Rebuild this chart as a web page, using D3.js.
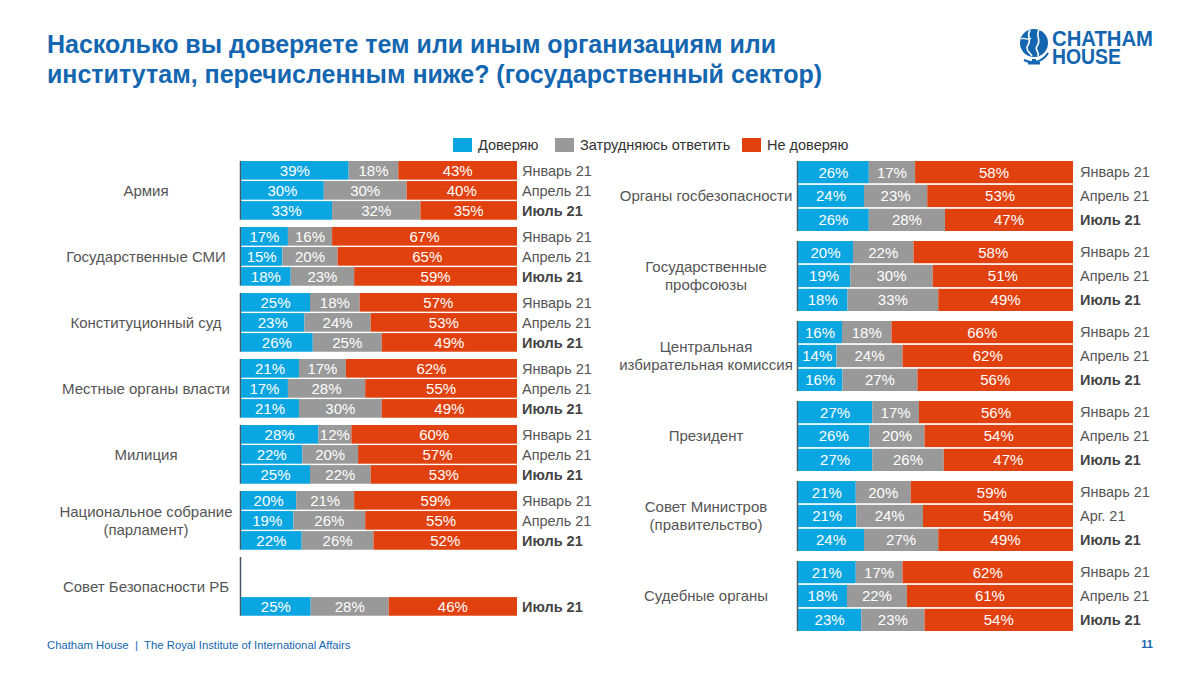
<!DOCTYPE html>
<html><head><meta charset="utf-8">
<script src="https://cdn.jsdelivr.net/npm/d3@7"></script>
<style>
html,body{margin:0;padding:0;background:#fff;}
svg{display:block;font-family:"Liberation Sans",Arial,sans-serif;}
</style></head>
<body><svg id="chart" width="1200" height="675"></svg>
<script>
// ---------- DATA ----------
const periods = ["Январь 21", "Апрель 21", "Июль 21"];
const seriesNames = ["Доверяю", "Затрудняюсь ответить", "Не доверяю"];

const leftCategories = [
  ["Армия"], ["Государственные СМИ"], ["Конституционный суд"],
  ["Местные органы власти"], ["Милиция"],
  ["Национальное собрание", "(парламент)"], ["Совет Безопасности РБ"]
];
// per category: [Jan, Apr, Jul]
const leftTrust    = [[39,30,33],[17,15,18],[25,23,26],[21,17,21],[28,22,25],[20,19,22],[null,null,25]];
const leftUnsure   = [[18,30,32],[16,20,23],[18,24,25],[17,28,30],[12,20,22],[21,26,26],[null,null,28]];
const leftDistrust = [[43,40,35],[67,65,59],[57,53,49],[62,55,49],[60,57,53],[59,55,52],[null,null,46]];
const leftPeriodLabels = [periods, periods, periods, periods, periods, periods, [null, null, "Июль 21"]];

const rightCategories = [
  ["Органы госбезопасности"], ["Государственные", "профсоюзы"],
  ["Центральная", "избирательная комиссия"], ["Президент"],
  ["Совет Министров", "(правительство)"], ["Судебные органы"]
];
const rightTrust    = [[26,24,26],[20,19,18],[16,14,16],[27,26,27],[21,21,24],[21,18,23]];
const rightUnsure   = [[17,23,28],[22,30,33],[18,24,27],[17,20,26],[20,24,27],[17,22,23]];
const rightDistrust = [[58,53,47],[58,51,49],[66,62,56],[56,54,47],[59,54,49],[62,61,54]];
const rightPeriodLabels = [periods, periods, periods, periods, ["Январь 21", "Арг. 21", "Июль 21"], periods];

// ---------- STYLE ----------
const colors = ["#0aa6e1", "#999999", "#e1410e"];
const titleBlue = "#1466b0";

const svg = d3.select("#chart");

// Title
const title = svg.append("text").attr("x", 47).attr("fill", titleBlue)
  .attr("font-weight", "bold").attr("font-size", 25);
title.append("tspan").attr("x", 47).attr("y", 53).text("Насколько вы доверяете тем или иным организациям или");
title.append("tspan").attr("x", 47).attr("y", 83).text("институтам, перечисленным ниже? (государственный сектор)");

// Logo
const logo = svg.append("g").attr("transform", "translate(1034,43)");
logo.append("circle").attr("r", 14).attr("fill", titleBlue);
logo.append("path").attr("d", "M-4,-13 C-8,-6 -2,-3 -6,2 C-9,6 -5,9 -2,13").attr("fill", "none").attr("stroke", "#fff").attr("stroke-width", 1.6);
logo.append("path").attr("d", "M5,-13 C1,-7 8,-3 3,3 C0,7 6,9 4,13").attr("fill", "none").attr("stroke", "#fff").attr("stroke-width", 1.6);
logo.append("path").attr("d", "M-13,-4 C-9,-6 -6,-2 -3,-5").attr("fill", "none").attr("stroke", "#fff").attr("stroke-width", 1.3);
logo.append("path").attr("d", "M-10,17 A18,18 0 0 0 14,10").attr("fill", "none").attr("stroke", titleBlue).attr("stroke-width", 2);
logo.append("rect").attr("x", -2).attr("y", 16).attr("width", 4).attr("height", 4).attr("fill", titleBlue);
logo.append("rect").attr("x", -6).attr("y", 19).attr("width", 12).attr("height", 2.5).attr("fill", titleBlue);
const logoText = svg.append("text").attr("fill", titleBlue).attr("font-weight", "bold").attr("font-size", 22.5);
logoText.append("tspan").attr("x", 1052).attr("y", 46).attr("textLength", 101).attr("lengthAdjust", "spacingAndGlyphs").text("CHATHAM");
logoText.append("tspan").attr("x", 1052).attr("y", 64).attr("textLength", 69).attr("lengthAdjust", "spacingAndGlyphs").text("HOUSE");

// Legend
const legendX = [453, 555, 742];
const legend = svg.append("g");
seriesNames.forEach((name, i) => {
  legend.append("rect").attr("x", legendX[i]).attr("y", 138).attr("width", 19).attr("height", 14).attr("fill", colors[i]);
  legend.append("text").attr("x", legendX[i] + 25).attr("y", 150).attr("font-size", 14.5).attr("fill", "#333").text(name);
});

// Footer
svg.append("text").attr("x", 47).attr("y", 649).attr("font-size", 11.3).attr("fill", titleBlue)
  .text("Chatham House\u00a0\u00a0|\u00a0\u00a0The Royal Institute of International Affairs");
svg.append("text").attr("x", 1153).attr("y", 648).attr("font-size", 11).attr("font-weight", "bold")
  .attr("text-anchor", "end").attr("fill", titleBlue).text("11");

// ---------- PANELS ----------
function drawPanel(cfg) {
  const n = cfg.categories.length;
  const g = svg.append("g");
  const yGroup = d3.scaleBand().domain(d3.range(n))
    .range([cfg.top, cfg.top + cfg.step * (n - cfg.pad)]).paddingInner(cfg.pad).paddingOuter(0);
  const yRow = d3.scaleBand().domain(d3.range(3)).range([0, yGroup.bandwidth()]).paddingInner(0.07);
  const x = d3.scaleLinear().domain([0, 1]).range([cfg.x0, cfg.x1]);

  for (let c = 0; c < n; c++) {
    const gy = yGroup(c);
    const grp = g.append("g").attr("transform", `translate(0,${gy})`);
    // axis line
    grp.append("line").attr("x1", cfg.x0 - 0.5).attr("x2", cfg.x0 - 0.5)
      .attr("y1", 0).attr("y2", yGroup.bandwidth()).attr("stroke", "#4d5866").attr("stroke-width", 1.5);
    // category label
    const lines = cfg.categories[c];
    const cy = yRow(1) + yRow.bandwidth() / 2;
    const lh = 18;
    lines.forEach((ln, k) => {
      grp.append("text").attr("x", cfg.catX).attr("y", cy + (k - (lines.length - 1) / 2) * lh)
        .attr("dy", "0.35em").attr("text-anchor", "middle").attr("font-size", 15).attr("fill", "#555").text(ln);
    });
    for (let p = 0; p < 3; p++) {
      const vals = [cfg.trust[c][p], cfg.unsure[c][p], cfg.distrust[c][p]];
      const ry = yRow(p), rh = yRow.bandwidth();
      if (vals[0] != null) {
        const total = d3.sum(vals);
        let acc = 0;
        vals.forEach((v, i) => {
          const xa = x(acc / total), xb = x((acc + v) / total);
          grp.append("rect").attr("x", xa).attr("y", ry).attr("width", xb - xa).attr("height", rh).attr("fill", colors[i]);
          grp.append("text").attr("x", (xa + xb) / 2).attr("y", ry + rh / 2).attr("dy", "0.36em")
            .attr("text-anchor", "middle").attr("font-size", 15).attr("fill", "#fff").text(v + "%");
          acc += v;
        });
      }
      const lab = cfg.periodLabels[c][p];
      if (lab) {
        grp.append("text").attr("x", cfg.labelX).attr("y", ry + rh / 2).attr("dy", "0.36em")
          .attr("font-size", 14.5).attr("font-weight", p === 2 ? "bold" : "normal")
          .attr("fill", p === 2 ? "#444" : "#555").text(lab);
      }
    }
  }
}

drawPanel({categories: leftCategories, trust: leftTrust, unsure: leftUnsure, distrust: leftDistrust,
  periodLabels: leftPeriodLabels, x0: 241, x1: 517, labelX: 522, catX: 146, top: 161, step: 66, pad: 0.11});
drawPanel({categories: rightCategories, trust: rightTrust, unsure: rightUnsure, distrust: rightDistrust,
  periodLabels: rightPeriodLabels, x0: 798, x1: 1073, labelX: 1080, catX: 706, top: 161, step: 80, pad: 0.125});
</script></body></html>
